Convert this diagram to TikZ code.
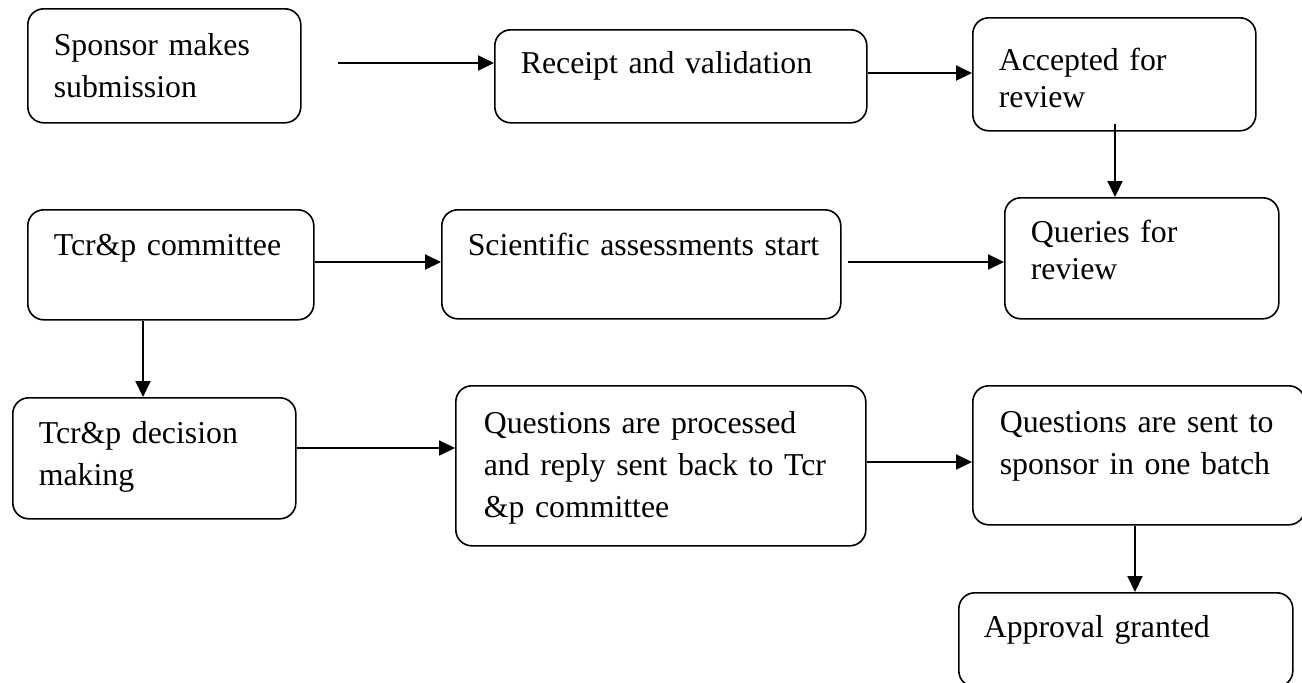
\documentclass[tikz,border=0pt]{standalone}
\usepackage{fontspec}
\setmainfont{Liberation Serif}
\usetikzlibrary{arrows.meta}
\begin{document}
\begin{tikzpicture}[x=1pt,y=-1pt,
  flowbox/.style={draw, line width=1.6pt, rounded corners=16pt, anchor=north west,
    align=left, inner ysep=0pt, font=\fontsize{31.8}{42}\selectfont},
  tightlines/.style={font=\fontsize{31.8}{37}\selectfont},
  flowarrow/.style={line width=2pt, -{Triangle[length=16pt,width=15pt]}}]
\useasboundingbox (0,0) rectangle (1302,683);

% Process steps (top-left corner, padding and first baseline set per box)
\node[flowbox, inner xsep=26pt, text width=221pt, text height=47pt, text depth=67pt]
  (spons) at (27,8) {Sponsor makes\\submission};
\node[flowbox, inner xsep=26pt, text width=320pt, text height=44pt, text depth=49pt]
  (recv) at (494,29) {Receipt and validation};
\node[flowbox, tightlines, inner xsep=26pt, text width=231pt, text height=53pt, text depth=60pt]
  (acc) at (972,17) {Accepted for\\review};
\node[flowbox, inner xsep=26pt, text width=234pt, text height=46pt, text depth=64pt]
  (tcr) at (27,209) {Tcr\&p committee};
\node[flowbox, inner xsep=26pt, text width=347pt, text height=46pt, text depth=63pt]
  (sci) at (441,209) {\mbox{Scientific assessments start}};
\node[flowbox, tightlines, inner xsep=26pt, text width=222pt, text height=45pt, text depth=76pt]
  (qry) at (1004,197) {Queries for\\review};
\node[flowbox, inner xsep=26pt, text width=231pt, text height=46pt, text depth=75pt]
  (dec) at (12,397) {Tcr\&p decision\\making};
\node[flowbox, inner xsep=28pt, text width=354pt, text height=48pt, text depth=112pt]
  (proc) at (455,385) {Questions are processed\\and reply sent back to Tcr\\\&p committee};
\node[flowbox, inner xsep=27pt, text width=278pt, text height=47pt, text depth=92pt]
  (send) at (972,385) {Questions are sent to\\sponsor in one batch};
\node[flowbox, inner xsep=25pt, text width=284pt, text height=45pt, text depth=49pt]
  (appr) at (958,592) {Approval granted};

% Connectors
\coordinate (start) at (338,63);
\coordinate (scigap) at ([xshift=6pt]sci.east);
\coordinate (accdrop) at ([yshift=8pt]acc.south);
\draw[flowarrow] (start) -- (start -| recv.west);
\draw[flowarrow] (recv.east |- 0,73) -- (acc.west |- 0,73);
\draw[flowarrow] (accdrop -| 1115,0) -- (qry.north -| 1115,0);
\draw[flowarrow] (tcr.east |- 0,262) -- (sci.west |- 0,262);
\draw[flowarrow] (scigap |- 0,262) -- (qry.west |- 0,262);
\draw[flowarrow] (tcr.south -| 143,0) -- (dec.north -| 143,0);
\draw[flowarrow] (dec.east |- 0,448) -- (proc.west |- 0,448);
\draw[flowarrow] (proc.east |- 0,462) -- (send.west |- 0,462);
\draw[flowarrow] (send.south -| 1135,0) -- (appr.north -| 1135,0);
\end{tikzpicture}
\end{document}
